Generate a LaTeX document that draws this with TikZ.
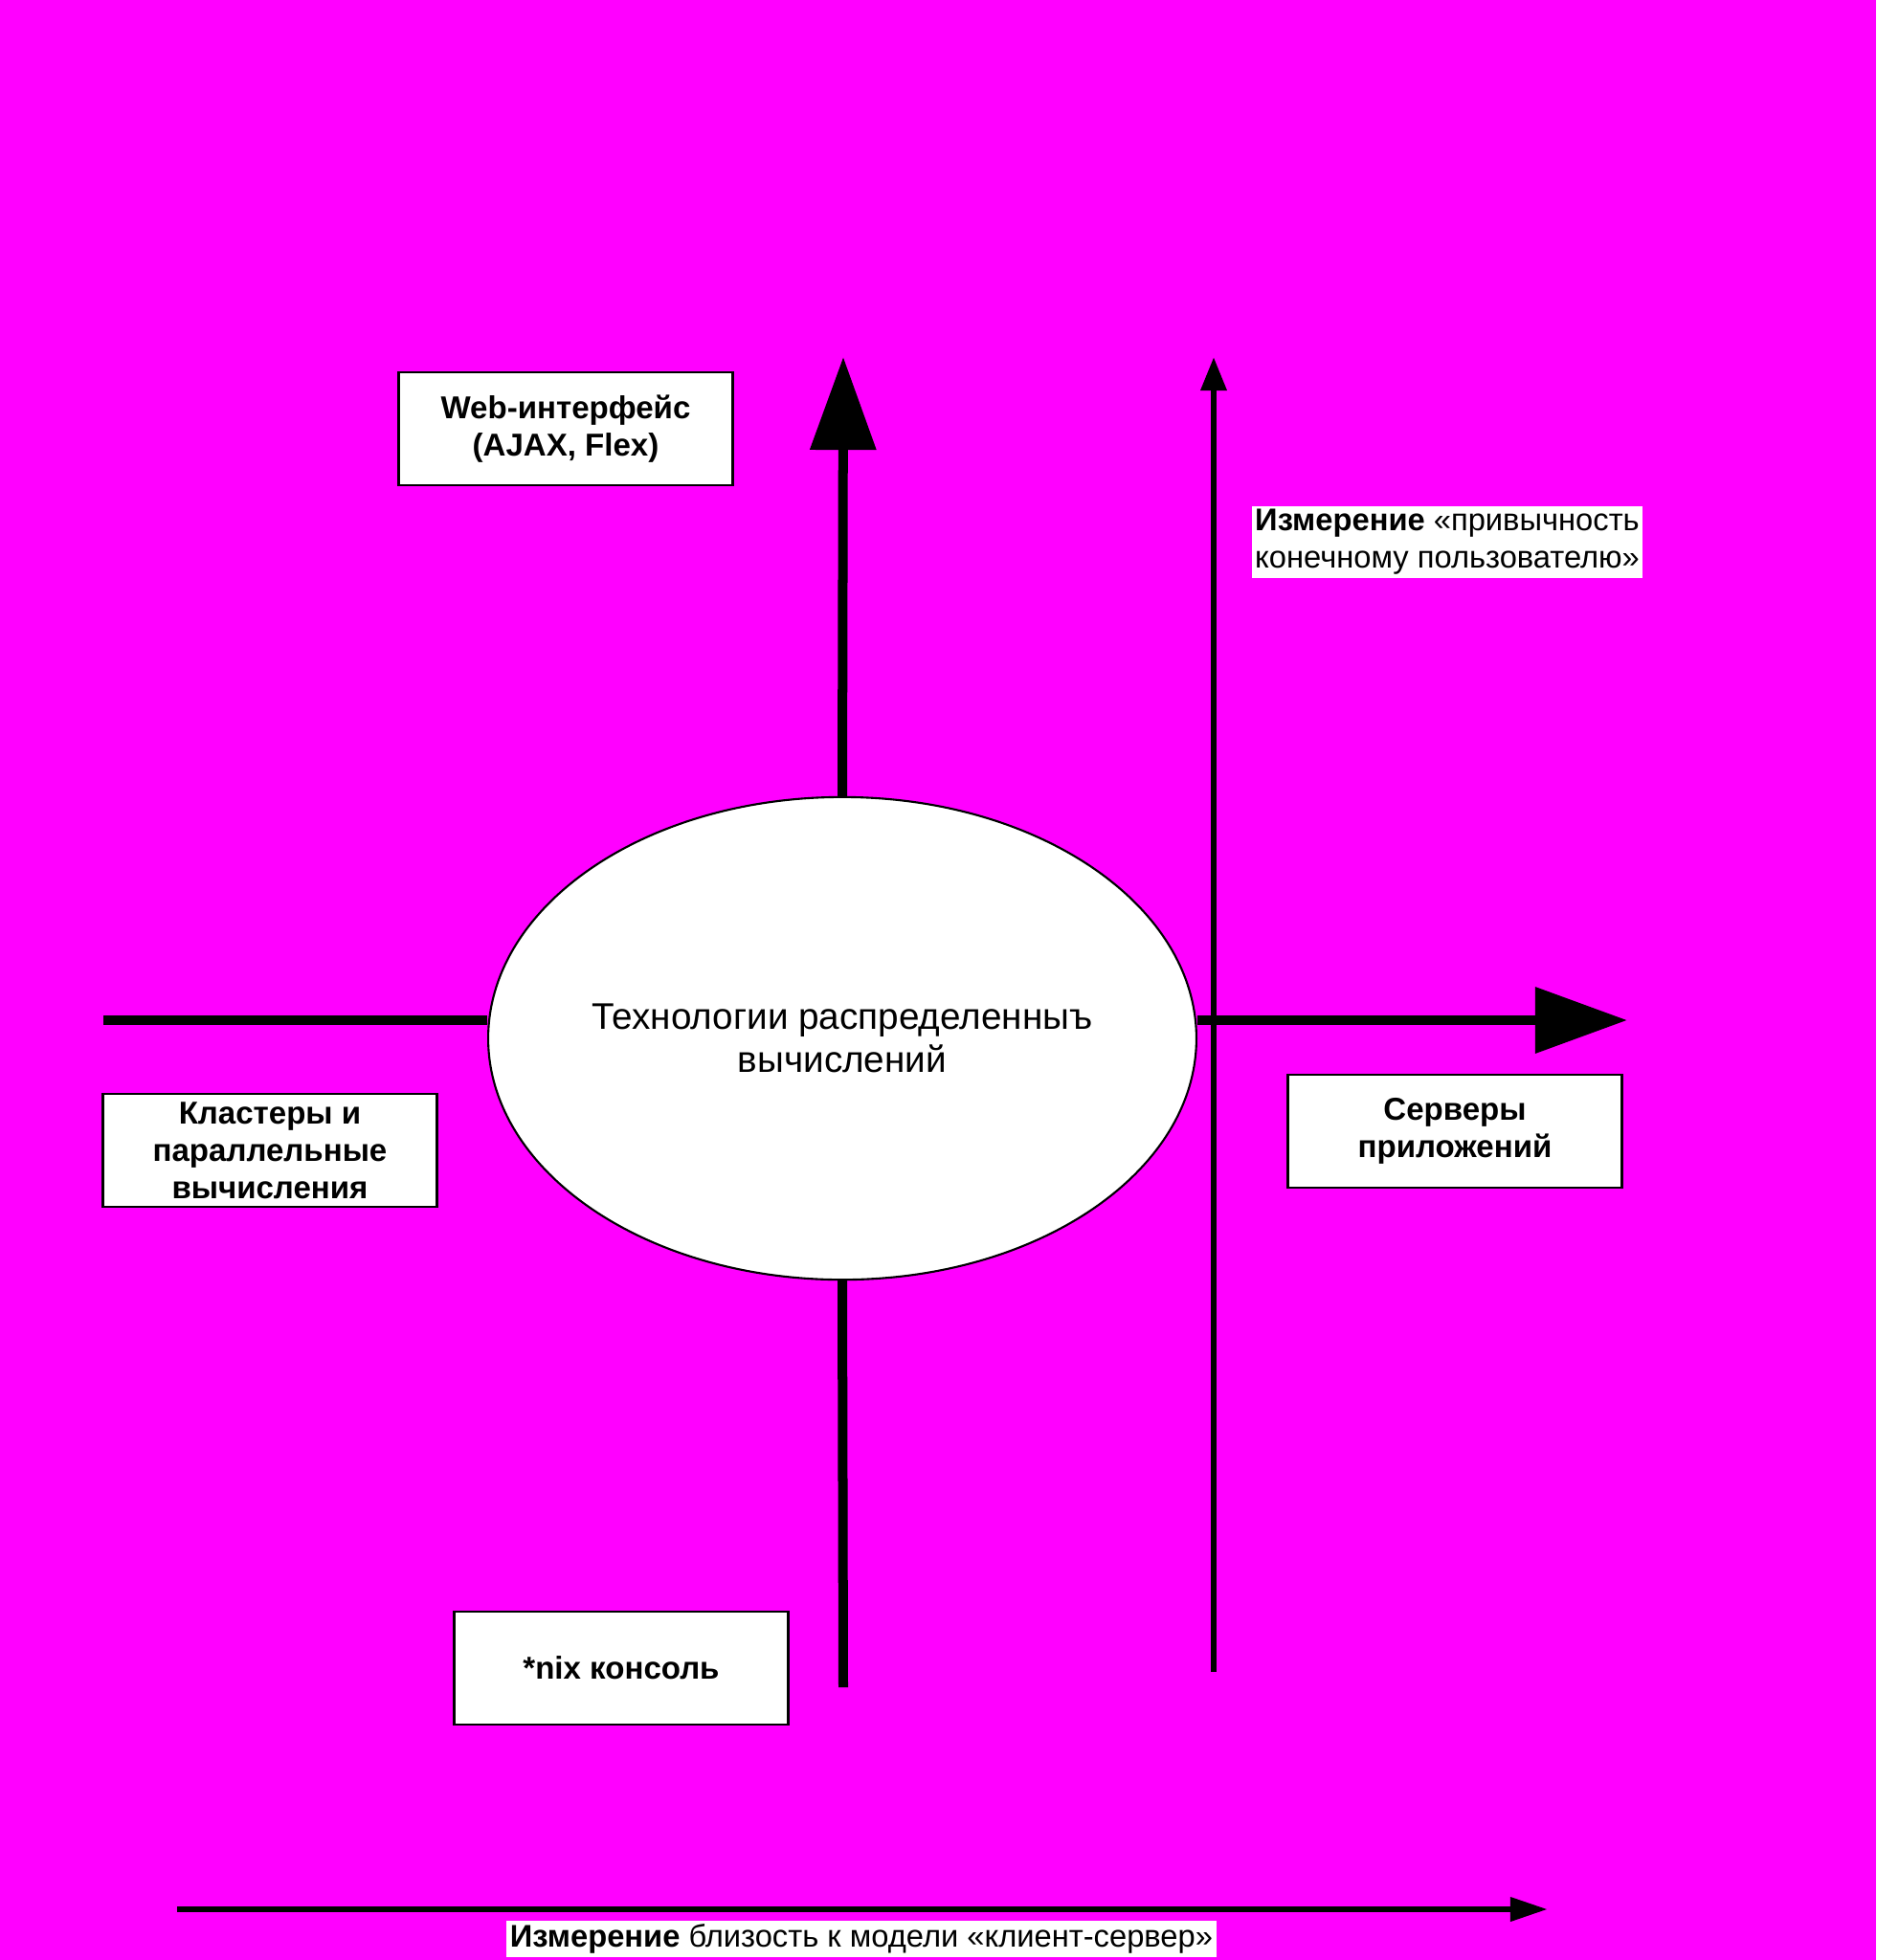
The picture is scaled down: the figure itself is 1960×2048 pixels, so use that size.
\documentclass[tikz,border=0pt]{standalone}
\usepackage{fontspec}
\setmainfont{Liberation Sans}
\usetikzlibrary{arrows.meta,shapes.geometric}
\definecolor{bgpink}{RGB}{255,0,255}
\tikzset{
  techbox/.style={draw, line width=0.8pt, fill=white, minimum width=3.49cm, minimum height=1.18cm,
    inner sep=0pt, align=center, font=\fontsize{9.4}{11.1}\selectfont\bfseries},
  dimlabel/.style={fill=white, inner sep=1pt, align=left, font=\fontsize{9.3}{11.1}\selectfont},
  bigaxis/.style={line width=0.1cm},
  thinaxis/.style={line width=0.065cm}
}
\begin{document}
\begin{tikzpicture}[x=0.01cm, y=-0.01cm]
            \fill[bgpink] (0,0) rectangle (1960,2048);
            \node[ellipse, draw, line width=0.6pt, fill=white, minimum width=7.36cm, minimum height=5.04cm,
              inner sep=0pt, align=center, font=\fontsize{11}{12.6}\selectfont] (tech) at (880,1085)
              {Технологии распределенныъ\\вычислений};
            \node[techbox] (web) at (591,448) {Web-интерфейс\\(AJAX, Flex)};
            \node[techbox] (clust) at (282,1202) {Кластеры и\\параллельные\\вычисления};
            \node[techbox] (appsrv) at (1520,1182) {Серверы\\приложений};
            \node[techbox] (nix) at (649,1743) {*nix консоль};
            \node[dimlabel, anchor=north west] (habit) at (1307,528)
              {\textbf{Измерение} «привычность\\конечному пользователю»};
            \node[dimlabel, anchor=north] (client) at (900,2006)
              {\textbf{Измерение} близость к модели «клиент-сервер»};
            \coordinate (vtop) at (881,373);
            \coordinate (vbot) at (881,1763);
            \coordinate (hleft) at (108,1066);
            \coordinate (hright) at (1700,1066);
            \coordinate (ttop) at (1268,373);
            \coordinate (tbot) at (1268,1747);
            \coordinate (bleft) at (185,1995);
            \coordinate (bright) at (1617,1995);
            \draw[bigaxis, -{Triangle[length=0.97cm, width=0.67cm]}] (tech.north) -- (vtop);
            \draw[bigaxis] (tech.south) -- (vbot);
            \draw[bigaxis] (hleft) -- (hleft -| tech.west);
            \draw[bigaxis, -{Triangle[length=0.96cm, width=0.67cm]}] (hleft -| tech.east) -- (hright);
            \draw[thinaxis, -{Triangle[length=0.35cm, width=0.26cm]}] (tbot) -- (ttop);
            \draw[thinaxis, -{Triangle[length=0.39cm, width=0.24cm]}] (bleft) -- (bright);
\end{tikzpicture}
\end{document}
